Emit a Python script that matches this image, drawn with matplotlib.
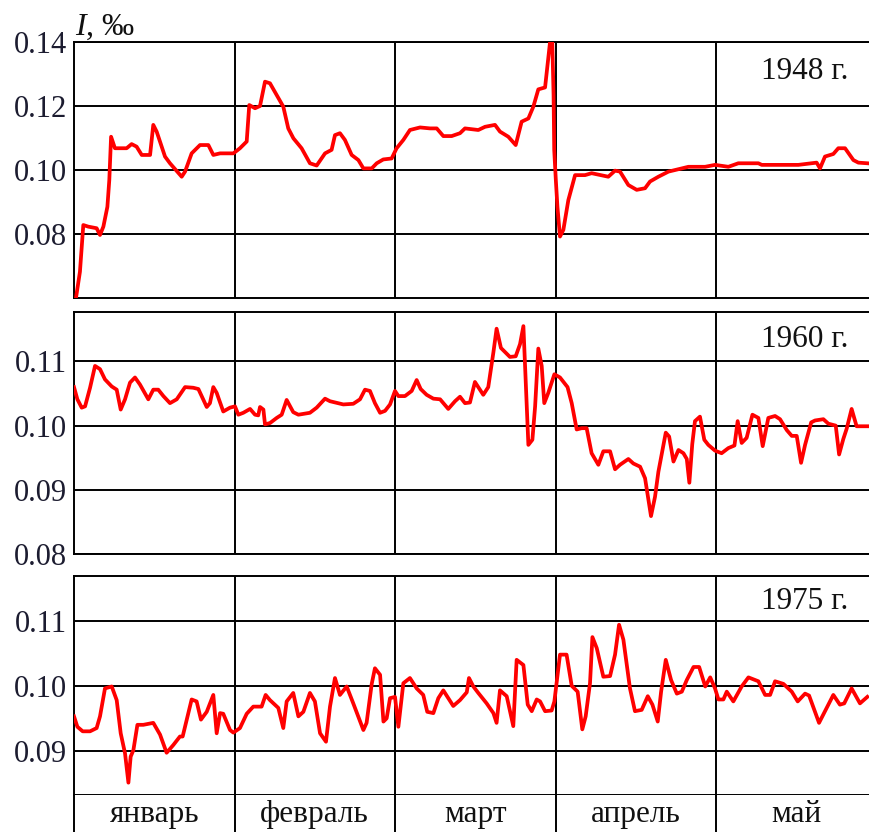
import matplotlib
matplotlib.use('Agg')
import matplotlib.pyplot as plt

plt.rcParams['font.family'] = ['Liberation Serif', 'DejaVu Serif']
plt.rcParams['mathtext.fontset'] = 'custom'
plt.rcParams['mathtext.it'] = 'Liberation Serif:italic'
plt.rcParams['mathtext.rm'] = 'Liberation Serif'

# x = position in months from 1 Jan (each month drawn with equal width), y = I, permille
pts_1948 = [(0.012, 0.0599), (0.037, 0.0682), (0.058, 0.0828), (0.089, 0.0823), (0.141, 0.0818),
            (0.162, 0.0797), (0.183, 0.0823), (0.208, 0.0885), (0.220, 0.0969), (0.231, 0.1104),
            (0.255, 0.1068), (0.328, 0.1068), (0.359, 0.1081), (0.390, 0.1073), (0.422, 0.1047),
            (0.474, 0.1047), (0.494, 0.1141), (0.515, 0.1120), (0.567, 0.1042), (0.598, 0.1021),
            (0.671, 0.0979), (0.692, 0.0995), (0.733, 0.1052), (0.785, 0.1078), (0.837, 0.1078),
            (0.868, 0.1047), (0.910, 0.1052), (0.993, 0.1052), (1.034, 0.1068), (1.076, 0.1089),
            (1.092, 0.1203), (1.128, 0.1193), (1.159, 0.1200), (1.190, 0.1276), (1.221, 0.1271),
            (1.304, 0.1198), (1.335, 0.1130), (1.367, 0.1099), (1.418, 0.1068), (1.470, 0.1021),
            (1.512, 0.1014), (1.564, 0.1052), (1.605, 0.1063), (1.626, 0.1109), (1.657, 0.1115),
            (1.688, 0.1094), (1.730, 0.1047), (1.772, 0.1031), (1.803, 0.1005), (1.855, 0.1005),
            (1.886, 0.1021), (1.927, 0.1033), (1.979, 0.1036), (2.010, 0.1068), (2.052, 0.1094),
            (2.093, 0.1125), (2.156, 0.1133), (2.218, 0.1130), (2.260, 0.1130), (2.301, 0.1106),
            (2.353, 0.1106), (2.405, 0.1115), (2.436, 0.1130), (2.519, 0.1125), (2.561, 0.1135),
            (2.623, 0.1141), (2.654, 0.1120), (2.706, 0.1104), (2.752, 0.1078), (2.789, 0.1151),
            (2.831, 0.1161), (2.862, 0.1198), (2.893, 0.1252), (2.935, 0.1258), (2.956, 0.1354),
            (2.966, 0.1400), (2.980, 0.1400), (2.988, 0.1234), (2.992, 0.1063), (3.002, 0.0969),
            (3.012, 0.0885), (3.028, 0.0792), (3.049, 0.0813), (3.080, 0.0906), (3.122, 0.0984),
            (3.184, 0.0984), (3.225, 0.0990), (3.329, 0.0979), (3.371, 0.0998), (3.402, 0.0995),
            (3.454, 0.0953), (3.506, 0.0938), (3.558, 0.0943), (3.589, 0.0964), (3.641, 0.0979),
            (3.704, 0.0995), (3.787, 0.1005), (3.828, 0.1010), (3.932, 0.1010), (3.994, 0.1016),
            (4.077, 0.1010), (4.139, 0.1021), (4.264, 0.1021), (4.285, 0.1016), (4.513, 0.1016),
            (4.627, 0.1023), (4.648, 0.1005), (4.679, 0.1042), (4.731, 0.1050), (4.762, 0.1068),
            (4.804, 0.1068), (4.856, 0.1031), (4.887, 0.1023), (4.943, 0.1021)]

pts_1960 = [(0.000, 0.1060), (0.021, 0.1041), (0.048, 0.1028), (0.069, 0.1030), (0.100, 0.1059),
            (0.131, 0.1093), (0.162, 0.1088), (0.193, 0.1072), (0.235, 0.1061), (0.266, 0.1056),
            (0.291, 0.1025), (0.318, 0.1041), (0.349, 0.1067), (0.380, 0.1075), (0.411, 0.1064),
            (0.463, 0.1041), (0.494, 0.1056), (0.525, 0.1056), (0.557, 0.1046), (0.598, 0.1035),
            (0.640, 0.1041), (0.692, 0.1060), (0.743, 0.1059), (0.775, 0.1057), (0.827, 0.1029),
            (0.847, 0.1035), (0.868, 0.1060), (0.889, 0.1051), (0.930, 0.1022), (0.972, 0.1028),
            (1.003, 0.1030), (1.024, 0.1017), (1.055, 0.1020), (1.097, 0.1026), (1.128, 0.1017),
            (1.148, 0.1016), (1.159, 0.1029), (1.180, 0.1025), (1.190, 0.1002), (1.221, 0.1004),
            (1.263, 0.1012), (1.294, 0.1017), (1.325, 0.1040), (1.366, 0.1021), (1.398, 0.1017),
            (1.470, 0.1020), (1.512, 0.1028), (1.564, 0.1042), (1.595, 0.1038), (1.678, 0.1033),
            (1.740, 0.1034), (1.782, 0.1041), (1.813, 0.1056), (1.844, 0.1054), (1.875, 0.1035),
            (1.907, 0.1020), (1.938, 0.1023), (1.969, 0.1033), (2.000, 0.1054), (2.021, 0.1046),
            (2.062, 0.1046), (2.104, 0.1054), (2.135, 0.1071), (2.160, 0.1057), (2.197, 0.1048),
            (2.239, 0.1042), (2.281, 0.1041), (2.332, 0.1026), (2.374, 0.1038), (2.405, 0.1045),
            (2.436, 0.1035), (2.467, 0.1036), (2.498, 0.1068), (2.519, 0.1060), (2.550, 0.1048),
            (2.581, 0.1060), (2.613, 0.1114), (2.633, 0.1151), (2.660, 0.1121), (2.716, 0.1107),
            (2.752, 0.1108), (2.779, 0.1127), (2.800, 0.1155), (2.810, 0.1095), (2.831, 0.0970),
            (2.856, 0.0978), (2.873, 0.1030), (2.893, 0.1120), (2.914, 0.1093), (2.930, 0.1035),
            (2.955, 0.1051), (2.993, 0.1080), (3.028, 0.1075), (3.075, 0.1060), (3.101, 0.1035),
            (3.132, 0.0994), (3.163, 0.0996), (3.194, 0.0996), (3.225, 0.0957), (3.267, 0.0939),
            (3.298, 0.0960), (3.340, 0.0960), (3.371, 0.0932), (3.402, 0.0939), (3.454, 0.0948),
            (3.485, 0.0941), (3.527, 0.0936), (3.558, 0.0918), (3.595, 0.0859), (3.620, 0.0889),
            (3.641, 0.0928), (3.687, 0.0989), (3.708, 0.0983), (3.735, 0.0944), (3.766, 0.0962),
            (3.797, 0.0957), (3.818, 0.0948), (3.834, 0.0911), (3.852, 0.0971), (3.869, 0.1007),
            (3.900, 0.1014), (3.927, 0.0978), (3.952, 0.0970), (3.994, 0.0961), (4.035, 0.0957),
            (4.077, 0.0965), (4.115, 0.0969), (4.135, 0.1007), (4.160, 0.0973), (4.191, 0.0981),
            (4.227, 0.1017), (4.264, 0.1012), (4.291, 0.0968), (4.326, 0.1012), (4.368, 0.1015),
            (4.399, 0.1010), (4.441, 0.0993), (4.472, 0.0984), (4.503, 0.0984), (4.530, 0.0942),
            (4.555, 0.0970), (4.593, 0.1005), (4.617, 0.1008), (4.669, 0.1010), (4.700, 0.1003),
            (4.746, 0.1000), (4.767, 0.0955), (4.793, 0.0979), (4.814, 0.0995), (4.845, 0.1026),
            (4.876, 0.0999), (4.943, 0.0999)]

pts_1975 = [(0.000, 0.0953), (0.021, 0.0937), (0.054, 0.0930), (0.100, 0.0930), (0.141, 0.0935),
            (0.162, 0.0953), (0.193, 0.0996), (0.235, 0.0999), (0.266, 0.0978), (0.291, 0.0927),
            (0.318, 0.0896), (0.339, 0.0851), (0.353, 0.0891), (0.370, 0.0901), (0.395, 0.0940),
            (0.432, 0.0940), (0.474, 0.0942), (0.494, 0.0943), (0.536, 0.0925), (0.577, 0.0897),
            (0.619, 0.0909), (0.660, 0.0922), (0.677, 0.0922), (0.712, 0.0958), (0.733, 0.0979),
            (0.764, 0.0976), (0.791, 0.0948), (0.827, 0.0960), (0.868, 0.0986), (0.889, 0.0927),
            (0.910, 0.0958), (0.930, 0.0957), (0.972, 0.0932), (0.993, 0.0928), (1.034, 0.0935),
            (1.076, 0.0957), (1.117, 0.0968), (1.169, 0.0968), (1.194, 0.0986), (1.221, 0.0978),
            (1.273, 0.0966), (1.304, 0.0935), (1.325, 0.0976), (1.366, 0.0989), (1.398, 0.0953),
            (1.429, 0.0960), (1.470, 0.0989), (1.501, 0.0976), (1.533, 0.0927), (1.570, 0.0914),
            (1.595, 0.0968), (1.626, 0.1012), (1.657, 0.0986), (1.699, 0.0999), (1.740, 0.0973),
            (1.803, 0.0932), (1.823, 0.0943), (1.855, 0.1003), (1.875, 0.1027), (1.907, 0.1017),
            (1.928, 0.0945), (1.948, 0.0950), (1.969, 0.0981), (2.000, 0.0983), (2.021, 0.0937),
            (2.052, 0.1004), (2.093, 0.1012), (2.135, 0.0996), (2.176, 0.0986), (2.201, 0.0960),
            (2.239, 0.0958), (2.270, 0.0981), (2.301, 0.0993), (2.363, 0.0969), (2.405, 0.0978),
            (2.447, 0.0990), (2.461, 0.1012), (2.488, 0.0999), (2.519, 0.0989), (2.571, 0.0973),
            (2.613, 0.0958), (2.633, 0.0943), (2.654, 0.0993), (2.696, 0.0984), (2.737, 0.0938),
            (2.758, 0.1040), (2.800, 0.1032), (2.827, 0.0971), (2.852, 0.0961), (2.883, 0.0979),
            (2.904, 0.0976), (2.935, 0.0961), (2.976, 0.0962), (2.993, 0.0976), (3.028, 0.1048),
            (3.069, 0.1048), (3.101, 0.1000), (3.138, 0.0991), (3.167, 0.0933), (3.188, 0.0953),
            (3.215, 0.1004), (3.230, 0.1075), (3.257, 0.1058), (3.298, 0.1014), (3.340, 0.1015),
            (3.371, 0.1048), (3.396, 0.1094), (3.423, 0.1071), (3.464, 0.0996), (3.495, 0.0961),
            (3.537, 0.0963), (3.575, 0.0984), (3.604, 0.0971), (3.637, 0.0945), (3.658, 0.0991),
            (3.687, 0.1040), (3.720, 0.1009), (3.756, 0.0988), (3.787, 0.0991), (3.818, 0.1009),
            (3.860, 0.1029), (3.895, 0.1029), (3.933, 0.0999), (3.964, 0.1013), (3.994, 0.0996),
            (4.015, 0.0979), (4.046, 0.0979), (4.067, 0.0991), (4.108, 0.0976), (4.160, 0.0999),
            (4.202, 0.1013), (4.264, 0.1007), (4.306, 0.0986), (4.337, 0.0986), (4.368, 0.1007),
            (4.420, 0.1003), (4.472, 0.0991), (4.509, 0.0976), (4.555, 0.0988), (4.580, 0.0985),
            (4.642, 0.0943), (4.690, 0.0966), (4.731, 0.0986), (4.772, 0.0971), (4.799, 0.0973),
            (4.845, 0.0996), (4.897, 0.0973), (4.943, 0.0983)]

years = ['1948 г.', '1960 г.', '1975 г.']
months = ['январь', 'февраль', 'март', 'апрель', 'май']
yticks_1948 = [0.08, 0.10, 0.12, 0.14]
yticks_1960 = [0.08, 0.09, 0.10, 0.11]
yticks_1975 = [0.09, 0.10, 0.11]

W_PX, H_PX = 869, 832
fig = plt.figure(figsize=(W_PX / 100, H_PX / 100), dpi=100)
left = 74 / W_PX
width = 5 * 160.5 / W_PX   # axes runs a bit past the right edge, like the scan


def box(top, bot):
    return [left, (H_PX - bot) / H_PX, width, (bot - top) / H_PX]


panels = [
    (pts_1948, years[0], yticks_1948, (0.06, 0.14), box(42, 298)),
    (pts_1960, years[1], yticks_1960, (0.08, 0.1177), box(312, 554)),
    (pts_1975, years[2], yticks_1975, (0.0832, 0.1169), box(576, 795)),
]

tick_col = '#1c1c30'
for pts, year, yt, ylim, rect in panels:
    ax = fig.add_axes(rect)
    xs, ys = zip(*pts)
    ax.plot(xs, ys, color='#ff0000', lw=2.7, zorder=3)
    ax.set_xlim(0, 5)
    ax.set_ylim(*ylim)
    ax.set_xticks([1, 2, 3, 4])
    ax.set_xticklabels([])
    ax.set_yticks(yt)
    ax.set_yticklabels(['%.2f' % t for t in yt])
    ax.grid(True, color='black', lw=1.4)
    ax.tick_params(length=0, pad=5, labelsize=22, labelcolor=tick_col)
    for s in ax.spines.values():
        s.set_linewidth(1.4)
    ax.spines['right'].set_visible(False)
    ax.text(0.91, 0.885, year, transform=ax.transAxes, ha='center', va='center',
            fontsize=22.5, color='#111111')

# month row under the last panel
axm = fig.add_axes([left, 0, width, 37 / H_PX])
axm.set_xlim(0, 5)
axm.set_ylim(0, 1)
axm.set_xticks([])
axm.set_yticks([])
for s in ['top', 'right', 'bottom']:
    axm.spines[s].set_visible(False)
axm.spines['left'].set_linewidth(1.4)
for b in [1, 2, 3, 4]:
    axm.axvline(b, color='black', lw=1.4)
for i, m in enumerate(months):
    axm.text(i + 0.5, 0.27, m, ha='center', va='baseline', fontsize=22.5, color='#111111')

fig.text(75 / W_PX, (H_PX - 35) / H_PX, r'$I$, ‰', fontsize=23, color='#111111',
         ha='left', va='baseline')

fig.savefig('out.png', dpi=100)
